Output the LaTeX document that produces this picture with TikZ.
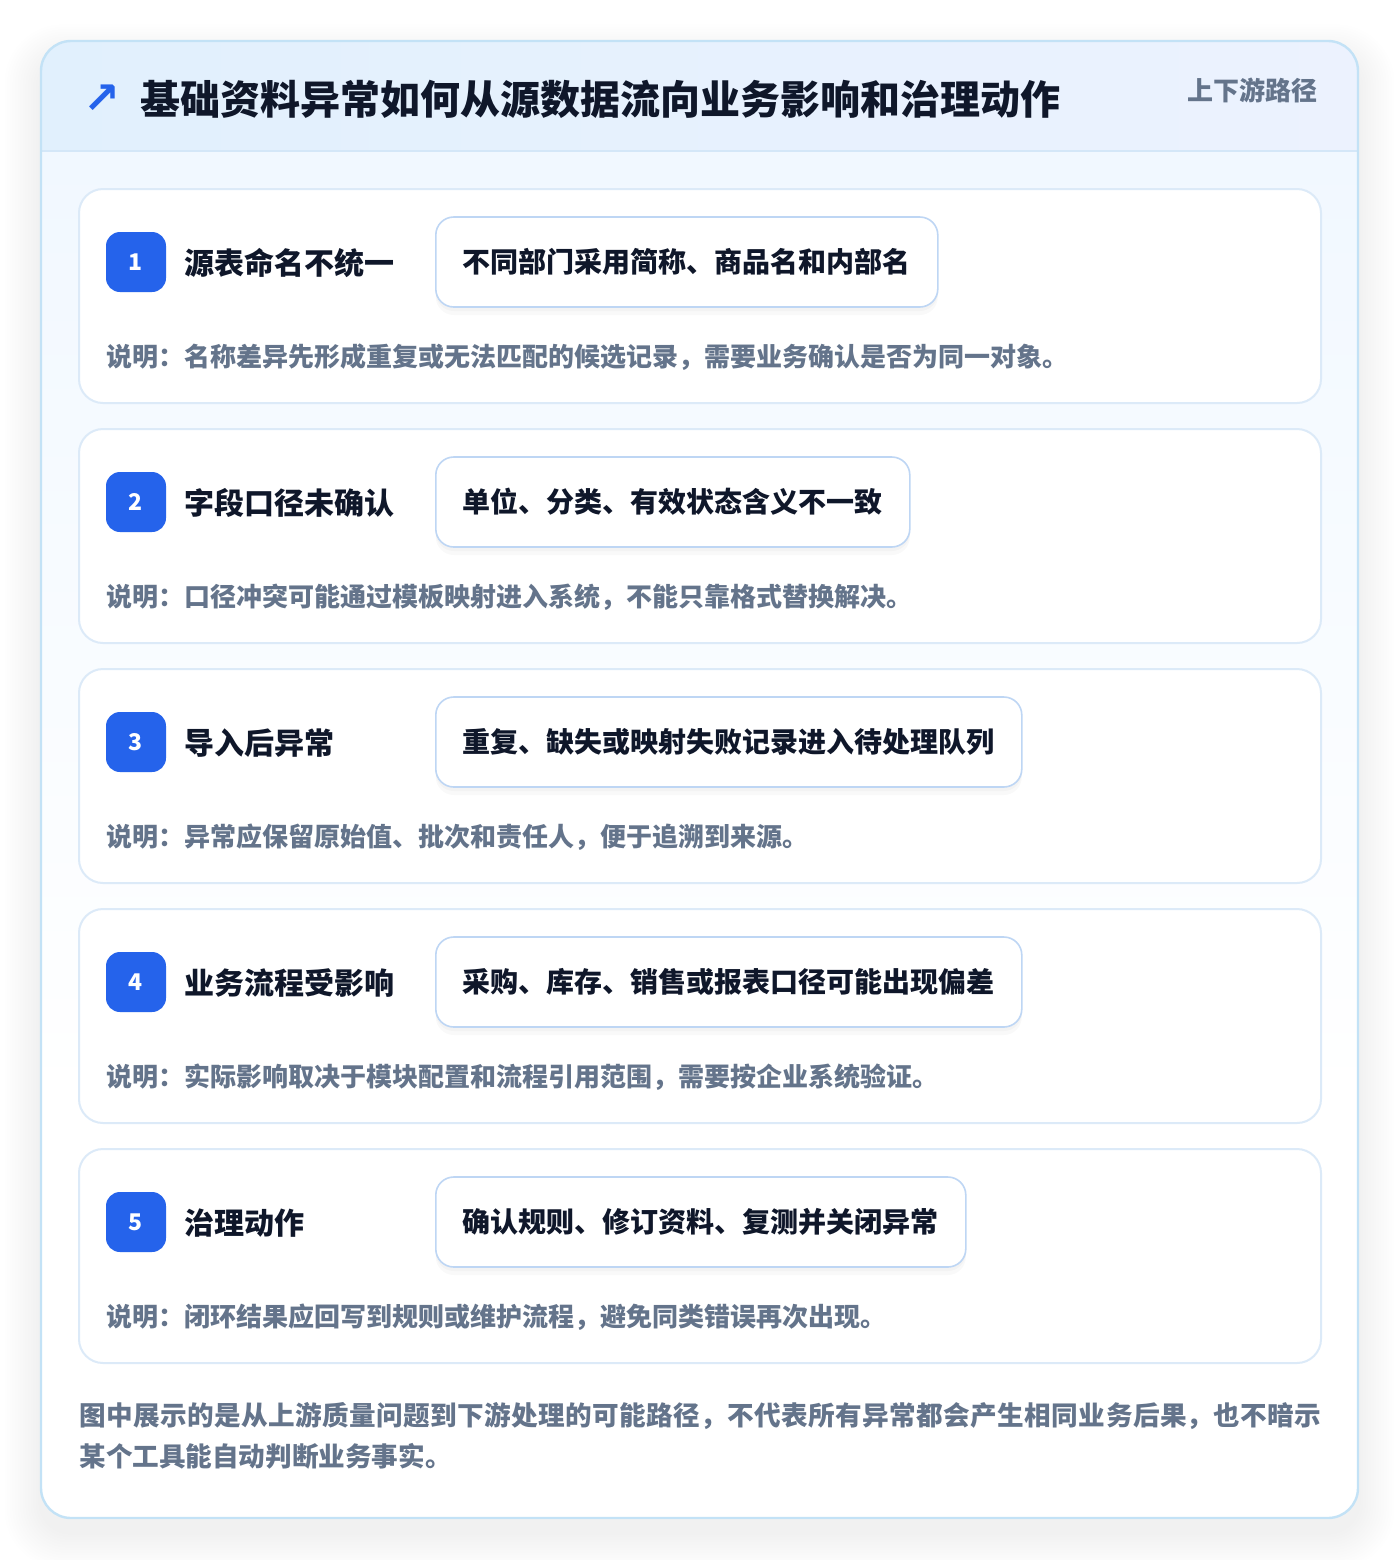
\documentclass[tikz,border=0pt]{standalone}
\usepackage{fontspec}
\setmainfont{Noto Sans CJK SC}[Kerning = Off]
\newfontfamily\symbolfont{DejaVu Sans}
\usetikzlibrary{positioning}

% Allow breaks (and stretch) between Chinese characters
\XeTeXlinebreaklocale "zh"
\XeTeXlinebreakskip = 0pt plus 1pt

\definecolor{ink}{HTML}{0F172A}
\definecolor{muted}{HTML}{64748B}
\definecolor{badgeblue}{HTML}{2563EB}
\definecolor{frameline}{HTML}{C3E2F6}
\definecolor{headleft}{HTML}{E1F0FD}
\definecolor{headright}{HTML}{ECF2FE}
\definecolor{headrule}{HTML}{D4E7F8}
\definecolor{bodytop}{HTML}{F1F8FF}
\definecolor{cardline}{HTML}{DCEAF8}
\definecolor{tagline}{HTML}{BED6F4}

\tikzset{
	card/.style = {draw = cardline, line width = 1pt, fill = white, rounded corners = 12pt},
	badge/.style = {fill = badgeblue, rounded corners = 7pt, minimum size = 30pt, inner sep = 0pt,
		text = white, font = \bfseries\fontsize{11.5}{11.5}\selectfont},
	steplabel/.style = {anchor = west, inner sep = 0pt, text = ink, font = \bfseries\fontsize{15}{15}\selectfont},
	tagbox/.style = {anchor = west, draw = tagline, line width = 0.8pt, fill = white, rounded corners = 9pt,
		minimum height = 45pt, inner xsep = 13.5pt, text = ink, font = \bfseries\fontsize{14}{14}\selectfont,
		preaction = {draw = none, fill = black, fill opacity = 0.025, transform canvas = {yshift = -4pt}},
		preaction = {draw = none, fill = black, fill opacity = 0.025, transform canvas = {yshift = -2pt}}},
	note/.style = {anchor = west, inner sep = 0pt, text = muted, font = \bfseries\fontsize{13}{13}\selectfont}
}

\begin{document}
\begin{tikzpicture}[x = 0.5pt, y = -0.5pt]

	% Page
	
	\useasboundingbox [fill = white] (0, 0) rectangle (1400, 1560);
	
	% Soft shadow of the outer frame
	
	\foreach \i in {1, ..., 14}
		\fill [black, opacity = 0.0045, rounded corners = 15pt + \i pt]
			(41 - 2.6 * \i, 58 - 2.4 * \i) rectangle (1358 + 2.6 * \i, 1532 + 2.6 * \i);
	
	% Outer frame with header band
	
	\begin{scope}
		\clip [rounded corners = 15pt] (41, 41) rectangle (1358, 1518);
		\fill [white] (41, 41) rectangle (1358, 1518);
		\shade [left color = headleft, right color = headright] (41, 41) rectangle (1358, 151);
		\shade [top color = bodytop, bottom color = white] (41, 151) rectangle (1358, 1100);
		\draw [headrule, line width = 1pt] (41, 151) -- (1358, 151);
	\end{scope}
	
	\draw [frameline, line width = 1.2pt, rounded corners = 15pt] (41, 41) rectangle (1358, 1518);
	
	% Header texts
	
	\node [text = badgeblue, font = \symbolfont\bfseries\fontsize{22}{22}\selectfont, inner sep = 0pt] (icon) at (102, 99) {↗};
	\node [anchor = west, inner sep = 0pt, text = ink, font = \bfseries\fontsize{20}{20}\selectfont] (title) at (140, 99)
		{基础资料异常如何从源数据流向业务影响和治理动作};
	\node [anchor = east, inner sep = 0pt, text = muted, font = \bfseries\fontsize{13}{13}\selectfont] (scopetag) at (1318, 90)
		{上下游路径};
	
	% Step 1
	
	\draw [card] (79, 189) rectangle (1321, 403);
	\node [badge] (badge1) at (136, 262) {1};
	\node [steplabel] (label1) at (184, 263) {源表命名不统一};
	\node [tagbox] (tag1) at (435, 262) {不同部门采用简称、商品名和内部名};
	\node [note] (note1) at (106, 357) {说明：名称差异先形成重复或无法匹配的候选记录，需要业务确认是否为同一对象。};
	
	% Step 2
	
	\draw [card] (79, 429) rectangle (1321, 643);
	\node [badge] (badge2) at (136, 502) {2};
	\node [steplabel] (label2) at (184, 503) {字段口径未确认};
	\node [tagbox] (tag2) at (435, 502) {单位、分类、有效状态含义不一致};
	\node [note] (note2) at (106, 597) {说明：口径冲突可能通过模板映射进入系统，不能只靠格式替换解决。};
	
	% Step 3
	
	\draw [card] (79, 669) rectangle (1321, 883);
	\node [badge] (badge3) at (136, 742) {3};
	\node [steplabel] (label3) at (184, 743) {导入后异常};
	\node [tagbox] (tag3) at (435, 742) {重复、缺失或映射失败记录进入待处理队列};
	\node [note] (note3) at (106, 837) {说明：异常应保留原始值、批次和责任人，便于追溯到来源。};
	
	% Step 4
	
	\draw [card] (79, 909) rectangle (1321, 1123);
	\node [badge] (badge4) at (136, 982) {4};
	\node [steplabel] (label4) at (184, 983) {业务流程受影响};
	\node [tagbox] (tag4) at (435, 982) {采购、库存、销售或报表口径可能出现偏差};
	\node [note] (note4) at (106, 1077) {说明：实际影响取决于模块配置和流程引用范围，需要按企业系统验证。};
	
	% Step 5
	
	\draw [card] (79, 1149) rectangle (1321, 1363);
	\node [badge] (badge5) at (136, 1222) {5};
	\node [steplabel] (label5) at (184, 1223) {治理动作};
	\node [tagbox] (tag5) at (435, 1222) {确认规则、修订资料、复测并关闭异常};
	\node [note] (note5) at (106, 1317) {说明：闭环结果应回写到规则或维护流程，避免同类错误再次出现。};
	
	% Footnote (first line justified to the card width)
	
	\node [anchor = west, inner sep = 0pt, text width = 621pt, align = justify, text = muted,
		font = \bfseries\fontsize{13.3}{20.5}\selectfont] (footnote) at (79, 1435.5)
		{图中展示的是从上游质量问题到下游处理的可能路径，不代表所有异常都会产生相同业务后果，也不暗示\linebreak
		某个工具能自动判断业务事实。};
		
\end{tikzpicture}
\end{document}
